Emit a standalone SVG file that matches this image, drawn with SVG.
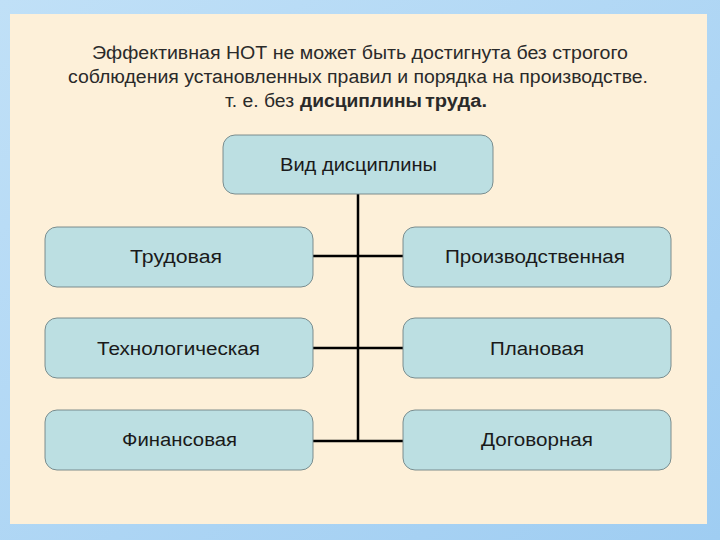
<svg xmlns="http://www.w3.org/2000/svg" width="720" height="540" viewBox="0 0 720 540">
<defs>
<linearGradient id="frame" x1="0" y1="0" x2="1" y2="1">
<stop offset="0" stop-color="#c0e0f7"/>
<stop offset="1" stop-color="#9fcdf2"/>
</linearGradient>
<style>
.box{fill:#bcdfe2;stroke:#6f8284;stroke-width:0.9}
.lbl{font-family:"Liberation Sans",Arial,sans-serif;font-size:18px;fill:#1a1a1a;text-anchor:middle}
.ttl{font-family:"Liberation Sans",Arial,sans-serif;font-size:18px;fill:#2a2a2a;text-anchor:middle}
.ts{font-family:"Liberation Sans",Arial,sans-serif;font-size:18px;fill:#2a2a2a;text-anchor:start}
.conn{stroke:#000;stroke-width:2.5;fill:none}
</style>
</defs>
<rect x="0" y="0" width="720" height="540" fill="url(#frame)"/>
<rect x="10" y="14" width="697" height="510" fill="#fdf0d9"/>
<g id="title">
<text class="ttl" x="360" y="59" textLength="536" lengthAdjust="spacingAndGlyphs">Эффективная НОТ не может быть достигнута без строгого</text>
<text class="ttl" x="358" y="83" textLength="580" lengthAdjust="spacingAndGlyphs">соблюдения установленных правил и порядка на производстве.</text>
<text class="ts" x="225" y="107" textLength="69" lengthAdjust="spacingAndGlyphs">т. е. без</text>
<text class="ts" x="300" y="107" font-weight="bold" fill="#111" textLength="122" lengthAdjust="spacingAndGlyphs">дисциплины</text>
<text class="ts" x="425" y="107" font-weight="bold" fill="#222" textLength="62" lengthAdjust="spacingAndGlyphs">труда.</text>
</g>
<g id="connectors">
<line class="conn" x1="358" y1="194" x2="358" y2="441"/>
<line class="conn" x1="313" y1="256" x2="403" y2="256"/>
<line class="conn" x1="313" y1="348" x2="403" y2="348"/>
<line class="conn" x1="313" y1="441" x2="403" y2="441"/>
</g>
<g id="root">
<rect class="box" x="223" y="135" width="270" height="59" rx="12"/>
<text class="lbl" x="358.5" y="171" textLength="157" lengthAdjust="spacingAndGlyphs">Вид дисциплины</text>
</g>
<g id="trudovaya">
<rect class="box" x="45" y="227" width="268" height="60" rx="12"/>
<text class="lbl" x="176" y="263" textLength="92" lengthAdjust="spacingAndGlyphs">Трудовая</text>
</g>
<g id="proizvodstvennaya">
<rect class="box" x="403" y="227" width="268" height="60" rx="12"/>
<text class="lbl" x="535" y="263" textLength="180" lengthAdjust="spacingAndGlyphs">Производственная</text>
</g>
<g id="tehnologicheskaya">
<rect class="box" x="45" y="318" width="268" height="60" rx="12"/>
<text class="lbl" x="178.5" y="355" textLength="163" lengthAdjust="spacingAndGlyphs">Технологическая</text>
</g>
<g id="planovaya">
<rect class="box" x="403" y="318" width="268" height="60" rx="12"/>
<text class="lbl" x="537" y="355" textLength="94" lengthAdjust="spacingAndGlyphs">Плановая</text>
</g>
<g id="finansovaya">
<rect class="box" x="45" y="410" width="268" height="60" rx="12"/>
<text class="lbl" x="179.5" y="446" textLength="115" lengthAdjust="spacingAndGlyphs">Финансовая</text>
</g>
<g id="dogovornaya">
<rect class="box" x="403" y="410" width="268" height="60" rx="12"/>
<text class="lbl" x="537" y="446" textLength="112" lengthAdjust="spacingAndGlyphs">Договорная</text>
</g>
</svg>
